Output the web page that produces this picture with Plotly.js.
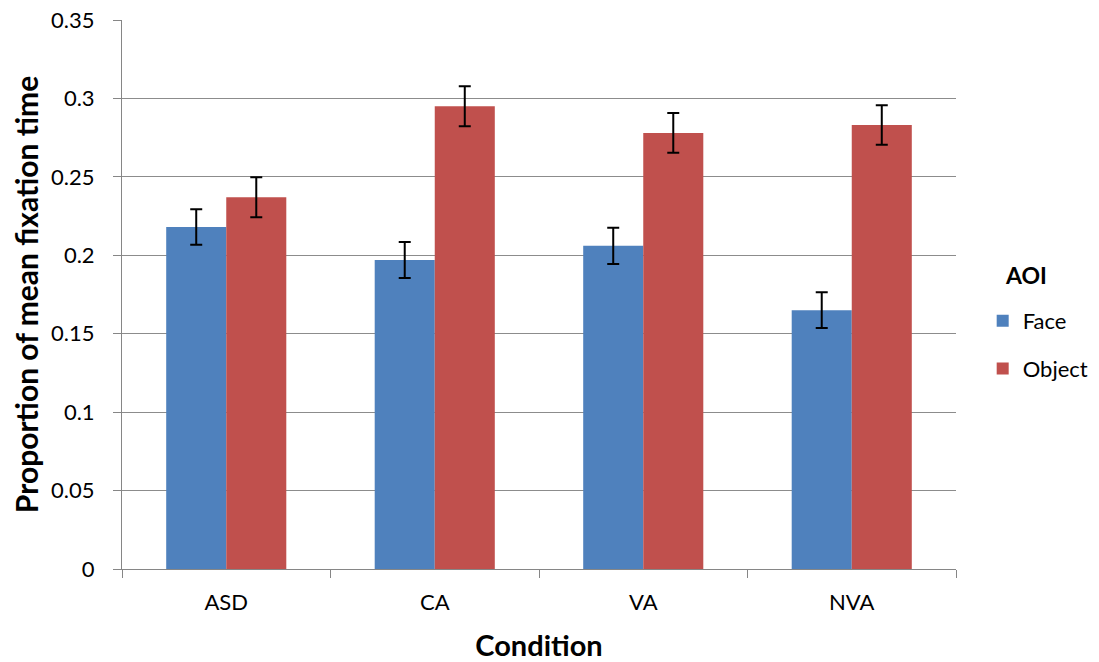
<!DOCTYPE html>
<html>
<head>
<meta charset="utf-8">
<script src="https://cdn.plot.ly/plotly-3.0.1.min.js"></script>
<style>html,body{margin:0;padding:0;background:#fff;}#chart{width:1099px;height:662px;}</style>
</head>
<body>
<div id="chart"></div>
<script>
const categories = ["ASD", "CA", "VA", "NVA"];
const faceValues = [0.218, 0.197, 0.206, 0.165];
const faceErrors = [0.0113, 0.0115, 0.0115, 0.0114];
const objectValues = [0.237, 0.295, 0.278, 0.283];
const objectErrors = [0.0127, 0.0127, 0.0127, 0.0126];
const yTicks = [0, 0.05, 0.1, 0.15, 0.2, 0.25, 0.3, 0.35];
const yTickLabels = ["0", "0.05", "0.1", "0.15", "0.2", "0.25", "0.3", "0.35"];

const font = "Lato, 'Open Sans', sans-serif";
const errStyle = {type: "data", visible: true, color: "#000", thickness: 2, width: 6};

const traces = [
  {type: "bar", name: "Face", x: categories, y: faceValues,
   marker: {color: "#4f81bd", line: {width: 0}},
   error_y: Object.assign({array: faceErrors}, errStyle),
   legendgroup: "a"},
  {type: "bar", name: "Object", x: categories, y: objectValues,
   marker: {color: "#c0504d", line: {width: 0}},
   error_y: Object.assign({array: objectErrors}, errStyle),
   legendgroup: "b"}
];

const layout = {
  width: 1099, height: 662,
  margin: {l: 122, r: 143, t: 20, b: 93, autoexpand: false},
  paper_bgcolor: "#fff", plot_bgcolor: "#fff",
  font: {family: font, size: 22, color: "#000"},
  barmode: "group", bargap: 0.424, bargroupgap: 0,
  xaxis: {
    type: "category", tickson: "boundaries",
    ticks: "outside", ticklen: 8, tickcolor: "#868686",
    showline: true, linecolor: "#868686", linewidth: 1,
    showgrid: false, zeroline: false,
    tickfont: {size: 22}, ticklabelstandoff: 14,
    title: {text: "Condition", font: {size: 29, family: font, weight: "bold"}, standoff: 22}
  },
  yaxis: {
    range: [0, 0.35], tickvals: yTicks, ticktext: yTickLabels,
    ticks: "outside", ticklen: 8, tickcolor: "#868686",
    showline: true, linecolor: "#868686", linewidth: 1,
    showgrid: true, gridcolor: "#8c8c8c", gridwidth: 1, zeroline: false,
    tickfont: {size: 22}, ticklabelstandoff: 14,
    title: {text: "Proportion of mean fixation time", font: {size: 30, family: font, weight: "bold"}, standoff: 3}
  },
  showlegend: true,
  legend: {
    x: 1.032, xanchor: "left", y: 0.490, yanchor: "top",
    font: {size: 22}, tracegroupgap: 16, itemwidth: 30,
    bgcolor: "rgba(0,0,0,0)"
  },
  annotations: [{
    text: "AOI", xref: "paper", yref: "paper", x: 1.0565, y: 0.5355,
    xanchor: "left", yanchor: "middle", showarrow: false,
    font: {size: 23, weight: "bold", family: font}
  }]
};

Plotly.newPlot("chart", traces, layout, {displayModeBar: false, staticPlot: true});
</script>
</body>
</html>
